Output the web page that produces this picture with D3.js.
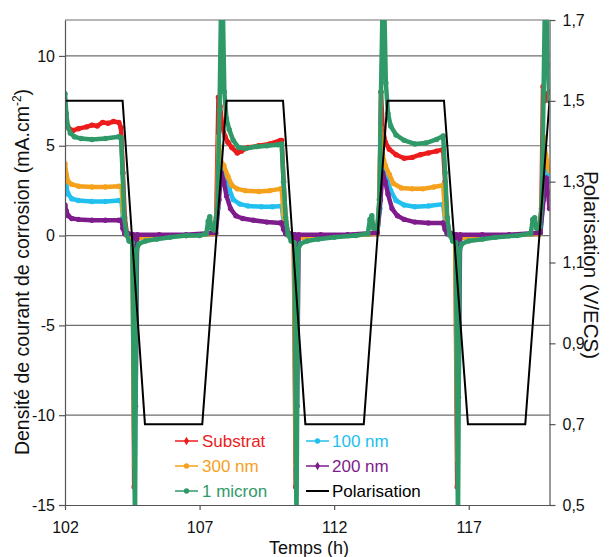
<!DOCTYPE html>
<html><head><meta charset="utf-8">
<script src="https://cdn.jsdelivr.net/npm/d3@7"></script>
<style>
body{margin:0;background:#fff}
svg{display:block}
text{font-family:"Liberation Sans",Arial,sans-serif}
</style>
</head><body>
<svg id="c" width="610" height="557"></svg>
<script>
// ---------- DATA ----------
const xTicks = [102, 107, 112, 117];
const yTicks = [-15, -10, -5, 0, 5, 10];
const y2Ticks = [0.5, 0.7, 0.9, 1.1, 1.3, 1.5, 1.7];

const substrat = [[102.0,6.8],[102.05,6.3],[102.15,5.95],[102.3,5.85],[102.5,5.95],[102.8,6.05],[103.0,6.15],[103.2,6.1],[103.4,6.3],[103.6,6.25],[103.8,6.35],[104.0,6.3],[104.08,6.0],[104.15,3.5],[104.22,1.0],[104.3,0.1],[104.45,0.0],[104.52,-0.3],[104.57,-14.0],[104.62,-0.2],[104.8,-0.1],[105.5,0.0],[106.5,0.0],[107.5,0.1],[107.62,1.0],[107.7,7.7],[107.76,7.2],[107.85,6.0],[107.95,5.5],[108.05,5.2],[108.2,4.9],[108.4,4.6],[108.55,4.7],[108.8,4.9],[109.2,5.0],[109.6,5.1],[110.0,5.3],[110.05,5.3],[110.12,3.0],[110.2,0.8],[110.3,0.05],[110.5,-0.2],[110.57,-14.0],[110.63,-0.2],[110.8,-0.1],[111.5,0.0],[112.5,0.0],[113.6,0.1],[113.68,1.5],[113.74,8.0],[113.8,6.0],[113.9,5.2],[114.05,4.8],[114.3,4.5],[114.6,4.3],[114.9,4.35],[115.2,4.5],[115.5,4.6],[115.8,4.7],[116.05,4.8],[116.12,3.0],[116.2,0.8],[116.3,0.05],[116.5,-0.2],[116.57,-14.0],[116.63,-0.2],[116.8,-0.1],[117.5,0.0],[118.5,0.0],[119.6,0.1],[119.7,1.5],[119.76,8.3],[119.82,7.5],[119.9,7.9],[120.0,8.0]];

const nm100 = [[102.0,3.2],[102.05,2.7],[102.12,2.3],[102.25,2.05],[102.5,1.95],[103.0,1.9],[103.5,1.9],[104.0,1.95],[104.1,1.9],[104.15,1.0],[104.22,0.2],[104.3,0.0],[104.52,-0.1],[104.6,-8.0],[104.66,-0.1],[105.5,0.0],[106.5,0.0],[107.6,0.1],[107.68,1.5],[107.74,4.5],[107.82,3.8],[107.95,3.3],[108.1,2.6],[108.25,2.0],[108.5,1.75],[108.8,1.65],[109.3,1.6],[109.7,1.6],[110.05,1.65],[110.12,0.8],[110.2,0.1],[110.3,0.0],[110.52,-0.1],[110.6,-8.0],[110.66,-0.1],[111.5,0.0],[112.5,0.0],[113.6,0.1],[113.7,1.5],[113.76,4.3],[113.85,3.6],[113.95,3.2],[114.1,2.5],[114.3,1.95],[114.6,1.7],[115.0,1.6],[115.5,1.65],[116.05,1.75],[116.12,0.8],[116.2,0.1],[116.3,0.0],[116.52,-0.1],[116.6,-7.5],[116.66,-0.1],[117.5,0.0],[118.5,0.0],[119.66,0.1],[119.74,1.5],[119.8,4.3],[119.9,3.5],[120.0,3.0]];

const nm300 = [[102.0,4.0],[102.05,3.4],[102.12,3.0],[102.25,2.85],[102.5,2.75],[103.0,2.7],[103.5,2.7],[104.0,2.75],[104.1,2.7],[104.15,1.5],[104.22,0.3],[104.3,0.0],[104.5,-0.1],[104.58,-12.8],[104.64,-0.2],[104.8,-0.1],[105.5,0.0],[106.5,0.0],[107.6,0.1],[107.66,2.0],[107.7,5.5],[107.78,4.2],[107.9,3.9],[108.05,3.3],[108.2,2.8],[108.4,2.6],[108.7,2.5],[109.2,2.45],[109.6,2.5],[110.0,2.6],[110.05,2.6],[110.12,1.2],[110.2,0.2],[110.3,0.0],[110.5,-0.1],[110.58,-12.8],[110.64,-0.2],[110.8,-0.1],[111.5,0.0],[112.5,0.0],[113.6,0.1],[113.68,2.0],[113.73,6.0],[113.8,4.5],[113.9,3.9],[114.05,3.4],[114.2,2.9],[114.5,2.65],[114.9,2.6],[115.3,2.6],[115.7,2.7],[116.05,2.8],[116.12,1.2],[116.2,0.2],[116.3,0.0],[116.5,-0.1],[116.58,-12.5],[116.64,-0.2],[116.8,-0.1],[117.5,0.0],[118.5,0.0],[119.65,0.1],[119.72,2.0],[119.78,5.5],[119.86,4.5],[119.95,3.8],[120.0,3.6]];

const nm200 = [[102.0,1.7],[102.05,1.35],[102.12,1.1],[102.25,0.95],[102.5,0.9],[103.0,0.85],[103.5,0.85],[104.0,0.85],[104.1,0.85],[104.15,0.4],[104.22,0.1],[104.35,0.1],[104.55,0.05],[104.62,-9.5],[104.68,0.05],[105.5,0.05],[106.5,0.05],[107.6,0.15],[107.72,2.0],[107.8,3.5],[107.9,3.0],[108.0,2.2],[108.15,1.5],[108.35,1.1],[108.6,0.95],[109.0,0.85],[109.5,0.75],[110.0,0.7],[110.05,0.7],[110.12,0.35],[110.2,0.1],[110.35,0.1],[110.55,0.05],[110.62,-9.5],[110.68,0.05],[111.5,0.05],[112.5,0.05],[113.6,0.15],[113.72,2.0],[113.8,3.5],[113.9,3.0],[114.0,2.3],[114.15,1.5],[114.35,1.1],[114.6,0.9],[115.0,0.75],[115.5,0.7],[116.05,0.7],[116.12,0.35],[116.2,0.1],[116.35,0.1],[116.55,0.05],[116.62,-9.0],[116.68,0.05],[117.5,0.05],[118.5,0.05],[119.66,0.15],[119.78,2.0],[119.88,3.2],[119.95,2.4],[120.0,1.5]];

const micron1 = [[102.0,7.9],[102.05,6.8],[102.1,6.1],[102.2,5.7],[102.35,5.5],[102.6,5.4],[103.0,5.35],[103.5,5.4],[104.0,5.5],[104.08,5.45],[104.14,3.5],[104.2,1.0],[104.28,0.1],[104.38,-0.3],[104.5,-0.4],[104.6,-16],[104.66,-0.8],[104.75,-0.45],[105.0,-0.3],[105.4,-0.2],[105.9,-0.1],[106.5,0.0],[107.0,0.0],[107.25,0.1],[107.32,0.8],[107.38,1.05],[107.44,0.4],[107.55,0.3],[107.66,1.5],[107.74,7.0],[107.8,13],[107.86,13],[107.92,8.0],[108.0,6.5],[108.1,5.9],[108.25,5.3],[108.45,4.9],[108.7,4.85],[109.1,4.95],[109.5,5.0],[109.9,5.05],[110.05,5.1],[110.12,3.0],[110.2,1.0],[110.28,0.1],[110.4,-0.3],[110.52,-0.4],[110.6,-16],[110.66,-0.8],[110.75,-0.45],[111.0,-0.3],[111.4,-0.2],[112.0,-0.1],[112.8,0.0],[113.25,0.1],[113.33,0.9],[113.4,1.1],[113.46,0.4],[113.6,0.4],[113.68,2.0],[113.74,8.0],[113.8,13],[113.86,13],[113.92,8.5],[114.0,6.8],[114.1,6.1],[114.3,5.6],[114.6,5.3],[115.0,5.1],[115.4,5.15],[115.8,5.35],[116.05,5.55],[116.12,3.5],[116.2,1.0],[116.28,0.1],[116.4,-0.3],[116.52,-0.4],[116.6,-16],[116.66,-0.8],[116.75,-0.45],[117.0,-0.3],[117.5,-0.2],[118.0,-0.1],[118.8,0.0],[119.3,0.1],[119.38,0.9],[119.45,1.0],[119.52,0.4],[119.65,0.5],[119.72,2.0],[119.78,8.0],[119.83,13],[119.88,13],[119.93,9.5],[120.0,7.5]];

const polarisation = [[102.0,1.5],[104.14,1.5],[104.97,0.7],[107.1,0.7],[108.0,1.5],[110.1,1.5],[110.93,0.7],[113.1,0.7],[113.98,1.5],[116.08,1.5],[116.97,0.7],[119.1,0.7],[120.0,1.5]];

const seriesNames = ["Substrat", "100 nm", "300 nm", "200 nm", "1 micron"];
const seriesData = [substrat, nm100, nm300, nm200, micron1];
const seriesColors = ["#ec1c1c", "#22c0ee", "#f6a11c", "#7e1c8c", "#2f9a68"];
const seriesSymbols = [d3.symbolDiamond, d3.symbolCircle, d3.symbolCircle, d3.symbolDiamond, d3.symbolCircle];

const legendLeft = ["Substrat", "300 nm", "1 micron"];
const legendRight = ["100 nm", "200 nm", "Polarisation"];

// ---------- CHART ----------
const svg = d3.select("#c");
const P = {l: 65, r: 549.5, t: 20, b: 505};
const x = d3.scaleLinear().domain([102, 120]).range([P.l, P.r]);
const y = d3.scaleLinear().domain([-15, 12]).range([P.b, P.t]);
const y2 = d3.scaleLinear().domain([0.5, 1.7]).range([P.b, P.t]);

svg.append("rect").attr("width", 610).attr("height", 557).attr("fill", "#fff");

// gridlines
svg.append("g").selectAll("line").data([-10, -5, 0, 5, 10, 12]).join("line")
  .attr("x1", P.l).attr("x2", P.r)
  .attr("y1", d => y(d)).attr("y2", d => y(d))
  .attr("stroke", "#6e6e6e").attr("stroke-width", 1.2);

svg.append("clipPath").attr("id", "clip").append("rect")
  .attr("x", P.l).attr("y", P.t).attr("width", P.r - P.l).attr("height", P.b - P.t);

const gSeries = svg.append("g").attr("clip-path", "url(#clip)");
const line = d3.line().x(d => x(d[0])).y(d => y(d[1]));

seriesData.forEach((data, i) => {
  const g = gSeries.append("g");
  g.append("path").datum(data).attr("d", line)
    .attr("fill", "none").attr("stroke", seriesColors[i])
    .attr("stroke-width", 4.5).attr("stroke-linejoin", "round").attr("stroke-linecap", "round");
  g.selectAll("circle").data(data).join("circle")
    .attr("cx", d => x(d[0])).attr("cy", d => y(Math.max(-16, Math.min(13, d[1]))))
    .attr("r", 2.7).attr("fill", seriesColors[i]);
});

const line2 = d3.line().x(d => x(d[0])).y(d => y2(d[1]));
gSeries.append("path").datum(polarisation).attr("d", line2)
  .attr("fill", "none").attr("stroke", "#000").attr("stroke-width", 2);

// axes
const axisColor = "#555";
const styleAxis = g => {
  g.selectAll(".domain").attr("stroke", axisColor).attr("stroke-width", 1.2);
  g.selectAll(".tick line").attr("stroke", axisColor).attr("stroke-width", 1.2);
  g.selectAll("text").attr("font-size", 16).attr("fill", "#111")
    .attr("font-family", "'Liberation Sans', Arial, sans-serif");
};

svg.append("g").attr("transform", `translate(${P.l},0)`)
  .call(d3.axisLeft(y).tickValues(yTicks).tickSize(6).tickSizeOuter(0).tickPadding(4).tickFormat(d => String(d)))
  .call(styleAxis);

svg.append("g").attr("transform", `translate(${P.r},0)`)
  .call(d3.axisRight(y2).tickValues(y2Ticks).tickSize(6).tickSizeOuter(0).tickPadding(7)
    .tickFormat(d => d.toFixed(1).replace(".", ",")))
  .call(styleAxis);

svg.append("g").attr("transform", `translate(0,${P.b})`)
  .call(d3.axisBottom(x).tickValues(xTicks).tickSize(5).tickSizeOuter(0).tickPadding(12).tickFormat(d => String(d)))
  .call(styleAxis);

// axis titles
svg.append("text").attr("x", 309).attr("y", 554).attr("text-anchor", "middle")
  .attr("font-size", 18).attr("fill", "#111").text("Temps (h)");

const yl = svg.append("text").attr("transform", "translate(29,272) rotate(-90)")
  .attr("text-anchor", "middle").attr("font-size", 19.5).attr("fill", "#111");
yl.append("tspan").text("Densité de courant de corrosion (mA.cm");
yl.append("tspan").attr("font-size", 12).attr("dy", -8).text("-2");
yl.append("tspan").attr("dy", 8).text(")");

svg.append("text").attr("transform", "translate(584,265) rotate(90)")
  .attr("text-anchor", "middle").attr("font-size", 20.5).attr("fill", "#111")
  .text("Polarisation (V/ECS)");

// legend
const legendRows = [441, 466, 491];
function legendItem(xLine, xText, yRow, label) {
  const i = seriesNames.indexOf(label);
  const color = i >= 0 ? seriesColors[i] : "#000";
  svg.append("line").attr("x1", xLine).attr("x2", xLine + 23).attr("y1", yRow).attr("y2", yRow)
    .attr("stroke", color).attr("stroke-width", i >= 0 ? 1.5 : 2);
  if (i >= 0) {
    svg.append("path").attr("d", d3.symbol().type(seriesSymbols[i]).size(22)())
      .attr("transform", `translate(${xLine + 11.5},${yRow})`).attr("fill", color);
  }
  svg.append("text").attr("x", xText).attr("y", yRow).attr("dy", "0.36em")
    .attr("font-size", 17).attr("fill", color).text(label);
}
legendLeft.forEach((l, k) => legendItem(175, 202, legendRows[k], l));
legendRight.forEach((l, k) => legendItem(306, 332, legendRows[k], l));
</script>
</body></html>
